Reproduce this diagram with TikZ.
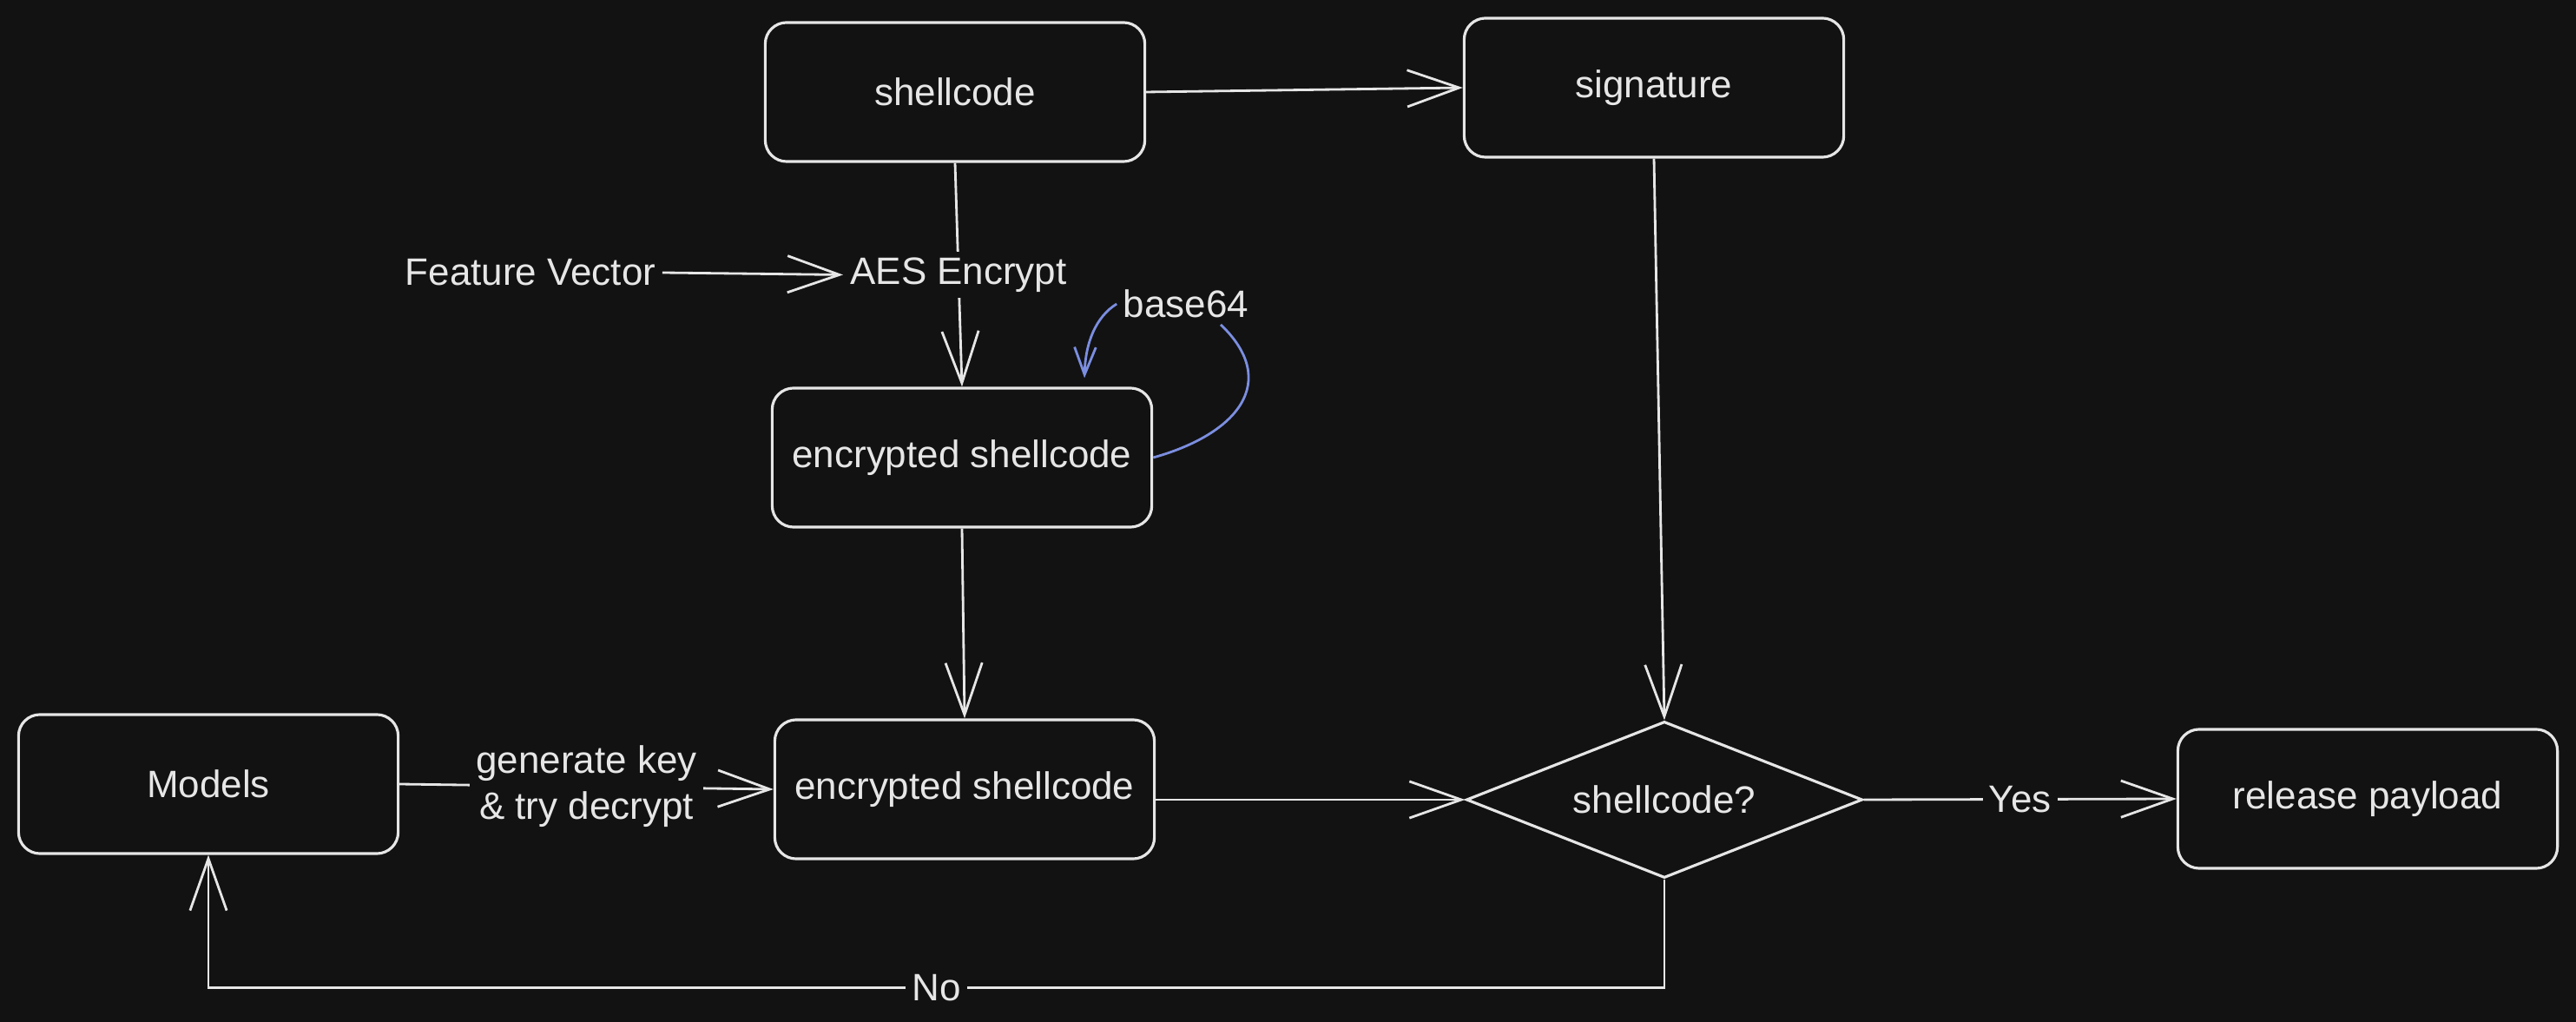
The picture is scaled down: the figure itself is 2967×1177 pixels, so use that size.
\documentclass[tikz,border=0pt]{standalone}
\usepackage{fontspec}
\setmainfont{Liberation Sans}
\usepackage{tikz}
\usetikzlibrary{arrows.meta}
\usetikzlibrary{shapes.geometric}
\definecolor{bg}{HTML}{121212}
\definecolor{ink}{HTML}{E6E6E6}
\definecolor{tagblue}{HTML}{7B8EE0}
\newcommand{\flowfont}{\fontsize{12.5}{15}\selectfont}
\tikzset{box/.style = {draw = ink, fill = bg, text = ink, rounded corners = 7pt, line width = 0.9pt, minimum width = 4.37cm, minimum height = 1.6cm}}
\tikzset{decision/.style = {diamond, aspect = 2.53, draw = ink, fill = bg, text = ink, line width = 0.9pt, inner sep = 0, minimum width = 4.56cm, minimum height = 1.8cm}}
\tikzset{arr/.style = {draw = ink, line width = 0.8pt, -{Straight Barb[length = 17pt, width = 12pt]}}}
\tikzset{bluearr/.style = {draw = tagblue, line width = 0.8pt}}
\tikzset{lbl/.style = {fill = bg, text = ink, inner sep = 2pt}}

\begin{document}
\begin{tikzpicture}[x = 0.01cm, y = -0.01cm, font = \flowfont]
    \useasboundingbox (0, 0) rectangle (2967, 1177);
    \fill [bg] (0, 0) rectangle (2967, 1177);

    \node [box] (code) at (1100, 106) {shellcode};
    \node [box] (sig) at (1905, 101) {signature};
    \node [box] (enc1) at (1108, 527) {encrypted shellcode};
    \node [box] (enc2) at (1111, 909) {encrypted shellcode};
    \node [box] (models) at (240, 903) {Models};
    \node [decision] (dec) at (1917, 921) {shellcode?};
    \node [box] (release) at (2727, 920) {release payload};
    \node [lbl] (fv) at (611, 314) {Feature Vector};
    \node [lbl] (b64) at (1366, 350) {base64};

    \draw [arr] (code.east) -- (sig.west);
    \draw [arr] (code.south) -- node [lbl, pos = 0.5] (aes) {AES Encrypt} (enc1.north);
    \draw [arr] (fv.east) -- (aes.west);
    \draw [bluearr] (enc1.east) .. controls (1425, 500) and (1475, 440) .. ([xshift = 0.4cm]b64.south);
    \draw [bluearr, -{Straight Barb[length = 9pt, width = 7pt]}] (b64.west) .. controls (1262, 365) and (1250, 395) .. ([xshift = 1.41cm, yshift = 0.1cm]enc1.north);
    \draw [arr] (enc1.south) -- (enc2.north);
    \draw [arr] (models.east) -- node [lbl, align = center] (gen) {generate key\\\& try decrypt} (enc2.west);
    \draw [arr] (enc2.east |- dec.west) -- (dec.west);
    \draw [arr] (sig.south) -- (dec.north);
    \draw [arr] (dec.east) -- node [lbl] (yes) {Yes} (release.west);
    \draw [arr] (dec.south) -- ++(0, 125) -| node [lbl, pos = 0.25] (no) {No} (models.south);
\end{tikzpicture}
\end{document}
